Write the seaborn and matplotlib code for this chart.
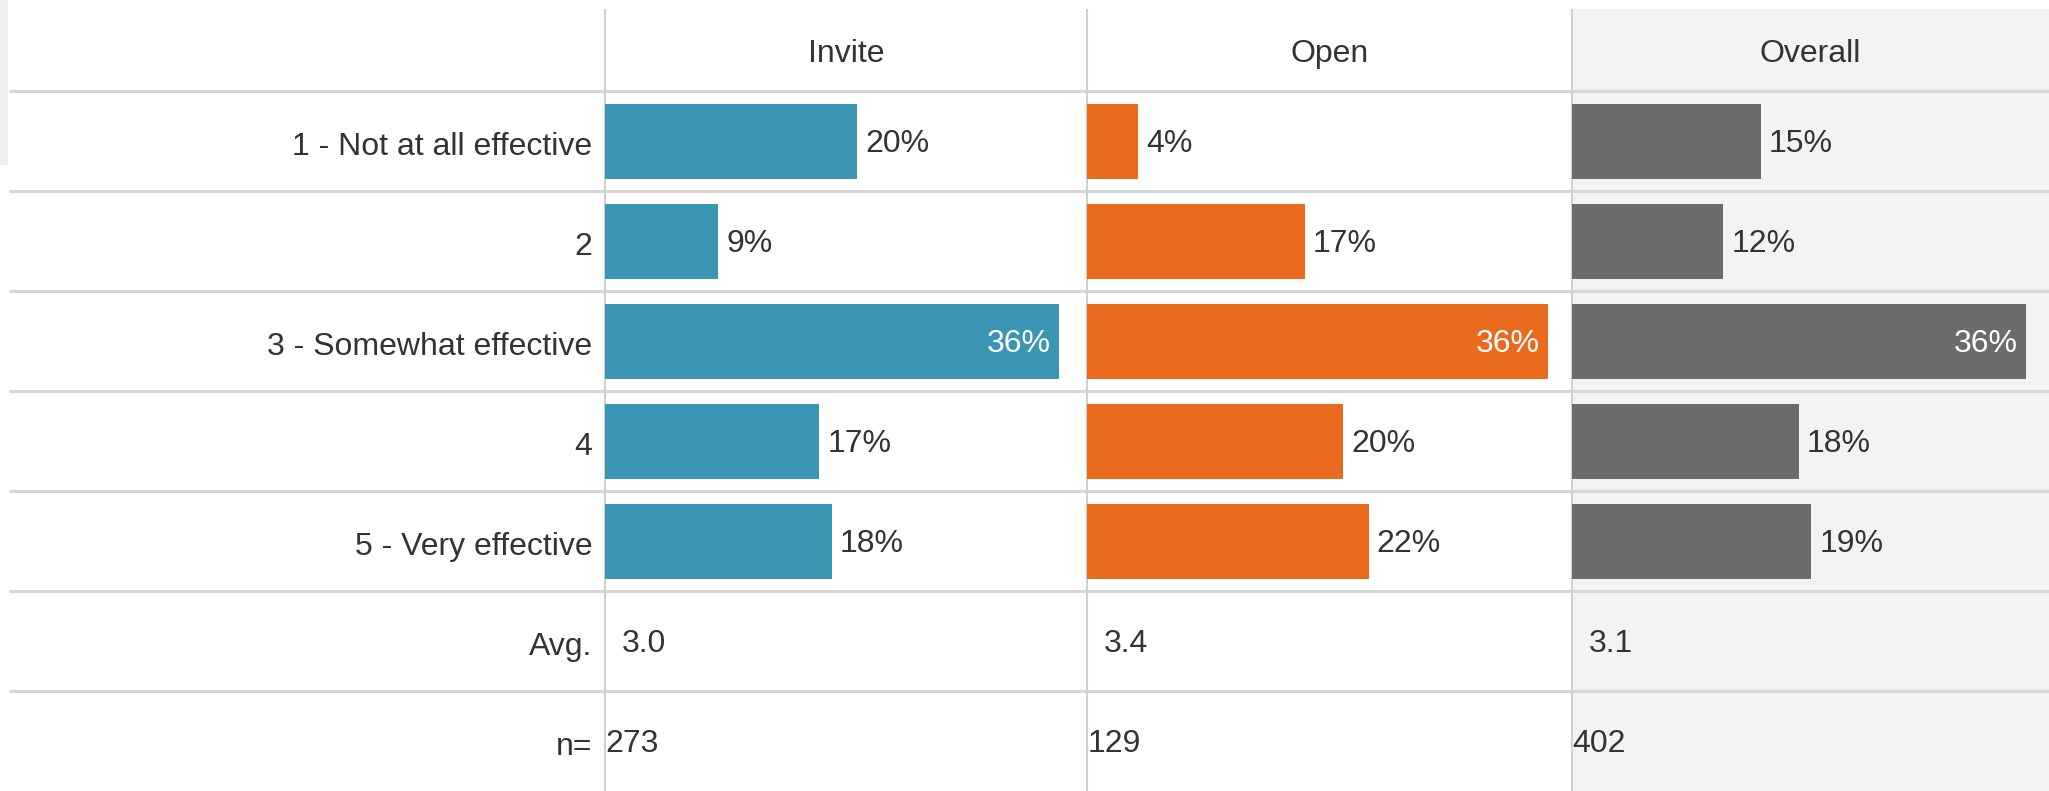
import matplotlib
matplotlib.use("Agg")
import matplotlib.pyplot as plt
from matplotlib.patches import Rectangle
from matplotlib.transforms import ScaledTranslation
from matplotlib import font_manager as fm
import seaborn as sns
import pandas as pd

# ---------------- data ----------------
ratings = ["1 - Not at all effective", "2", "3 - Somewhat effective", "4", "5 - Very effective"]
groups = ["Invite", "Open", "Overall"]
invite_pct = [20, 9, 36, 17, 18]
open_pct = [4, 17, 36, 20, 22]
overall_pct = [15, 12, 36, 18, 19]
avg_values = ["3.0", "3.4", "3.1"]
n_values = ["273", "129", "402"]
extra_rows = ["Avg.", "n="]

series = [invite_pct, open_pct, overall_pct]
colors = ["#3a96b2", "#eb6b1e", "#6b6b6b"]

# ---------------- style ----------------
sns.set_style("white")
plt.rcParams["font.family"] = ["Liberation Sans", "DejaVu Sans"]
TXT = "#333333"
FS = 23
PROP = fm.FontProperties(family=["Liberation Sans", "DejaVu Sans"], size=FS)
CAP_HALF = 0.716 * FS * 100 / 72 / 2  # half cap height in px

W, H = 2049, 791
fig = plt.figure(figsize=(W / 100, H / 100), dpi=100)

bg = fig.add_axes([0, 0, 1, 1], zorder=0)
bg.set_xlim(0, W)
bg.set_ylim(H, 0)
bg.axis("off")

col_edges = [605, 1087, 1572, W]
top_y, header_y = 9, 91
row_h = 100

bg.add_patch(Rectangle((0, 0), 8, 165, color="#eff0f2", lw=0))
bg.add_patch(Rectangle((col_edges[2], top_y), W - col_edges[2], H - top_y,
                       color="#f3f3f3", lw=0))
for k in range(7):
    y = header_y + k * row_h
    bg.plot([9, W], [y, y], color="#d6d6d6", lw=2.2, solid_capstyle="butt")
for x in col_edges[:3]:
    bg.plot([x, x], [top_y, H], color="#d0d0d0", lw=1.5, solid_capstyle="butt")

for i, g in enumerate(groups):
    cx = (col_edges[i] + col_edges[i + 1]) / 2
    bg.text(cx, 51 + CAP_HALF, g, ha="center", va="baseline",
            fontproperties=PROP, color=TXT)

# ---------------- bar columns ----------------
px_scales = [12.6, 12.8, 12.6]  # pixels per percentage point in each column
dy = CAP_HALF / row_h
for i, (g, vals) in enumerate(zip(groups, series)):
    x0, x1 = col_edges[i], col_edges[i + 1]
    pxp = px_scales[i]
    ax = fig.add_axes([x0 / W, 0, (x1 - x0) / W, (H - header_y) / H], zorder=2)
    ax.patch.set_alpha(0)
    df = pd.DataFrame({"rating": ratings, "pct": vals})
    sns.barplot(data=df, x="pct", y="rating", order=ratings, orient="h",
                color=colors[i], width=0.75, linewidth=0, saturation=1, ax=ax)
    ax.set_xlim(0, (x1 - x0) / pxp)
    ax.set_ylim(6.5, -0.5)
    for sp in ax.spines.values():
        sp.set_visible(False)
    ax.set_xlabel("")
    ax.set_ylabel("")
    ax.set_xticks([])
    gap = 8 / pxp
    for r, v in enumerate(vals):
        if v >= 30:
            ax.text(v - gap, r + dy, f"{v}%", ha="right", va="baseline",
                    fontproperties=PROP, color="white")
        else:
            ax.text(v + gap, r + dy, f"{v}%", ha="left", va="baseline",
                    fontproperties=PROP, color=TXT)
    ax.text(17 / pxp, 5 + dy, avg_values[i], ha="left", va="baseline",
            fontproperties=PROP, color=TXT)
    ax.text(0.05, 6 + dy, n_values[i], ha="left", va="baseline",
            fontproperties=PROP, color=TXT)
    if i == 0:
        ax.set_yticks(range(7))
        ax.set_yticklabels(ratings + extra_rows, fontproperties=PROP, color=TXT)
        ax.tick_params(axis="y", length=0, pad=9)
        shift = ScaledTranslation(0, -2.5 / 100, fig.dpi_scale_trans)
        for lab in ax.get_yticklabels():
            lab.set_transform(lab.get_transform() + shift)
    else:
        ax.set_yticks([])

fig.savefig("out.png", dpi=100)
